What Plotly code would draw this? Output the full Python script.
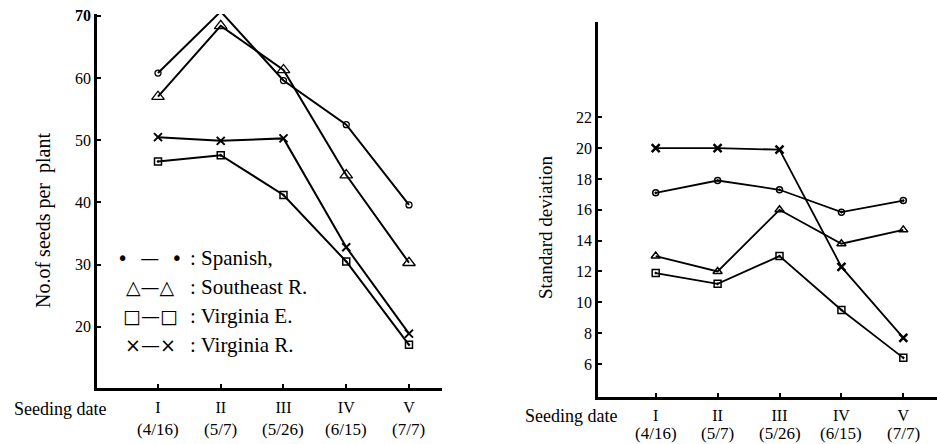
import plotly.graph_objects as go

# ---- data ----
dates_pos = [1, 2, 3, 4, 5]
roman = ["I", "II", "III", "IV", "V"]
dates = ["(4/16)", "(5/7)", "(5/26)", "(6/15)", "(7/7)"]

seeds_spanish = [60.8, 70.7, 59.6, 52.5, 39.6]
seeds_southeast = [57.0, 68.4, 61.3, 44.4, 30.3]
seeds_virginia_e = [46.6, 47.6, 41.2, 30.5, 17.1]
seeds_virginia_r = [50.5, 49.9, 50.3, 32.8, 18.9]

sd_spanish = [17.1, 17.9, 17.3, 15.85, 16.6]
sd_southeast = [13.0, 12.0, 16.0, 13.8, 14.7]
sd_virginia_e = [11.9, 11.2, 13.0, 9.5, 6.4]
sd_virginia_r = [20.0, 20.0, 19.9, 12.3, 7.7]

left_yticks = [20, 30, 40, 50, 60, 70]
left_yticklabels = ["20", "30", "40", "50", "60", "<b>70</b>"]
right_yticks = [6, 8, 10, 12, 14, 16, 18, 20, 22]

legend_symbols = ["•  —  •", "△—△", "□—□", "×—×"]
legend_names = [": Spanish,", ": Southeast R.", ": Virginia E.", ": Virginia R."]

SERIF = "Liberation Serif"
W, H = 937, 444

fig = go.Figure()

left_series = [
    (seeds_spanish, dict(symbol="circle-open", size=6, line=dict(width=1.3))),
    (seeds_southeast, dict(symbol="triangle-up-open", size=11, line=dict(width=1.3))),
    (seeds_virginia_e, dict(symbol="square-open-dot", size=7, line=dict(width=1.5))),
    (seeds_virginia_r, dict(symbol="x-thin-open", size=8, line=dict(width=2))),
]
right_series = [
    (sd_spanish, dict(symbol="circle-open-dot", size=6, line=dict(width=1.5))),
    (sd_southeast, dict(symbol="triangle-up-open", size=8, line=dict(width=1.5))),
    (sd_virginia_e, dict(symbol="square-open-dot", size=7, line=dict(width=1.5))),
    (sd_virginia_r, dict(symbol="x-thin-open", size=8, line=dict(width=2.5))),
]

for vals, mk in left_series:
    mk = dict(mk, color="black")
    fig.add_trace(go.Scatter(x=dates_pos, y=vals, mode="lines+markers",
                             line=dict(color="black", width=2), marker=mk,
                             cliponaxis=False,
                             xaxis="x", yaxis="y", showlegend=False))
for vals, mk in right_series:
    mk = dict(mk, color="black")
    fig.add_trace(go.Scatter(x=dates_pos, y=vals, mode="lines+markers",
                             line=dict(color="black", width=1.8), marker=mk,
                             cliponaxis=False,
                             xaxis="x2", yaxis="y2", showlegend=False))

axis_common = dict(showgrid=False, zeroline=False, showline=True, linecolor="black",
                   linewidth=2.5, ticks="inside", ticklen=4, tickwidth=1.5,
                   automargin=False,
                   tickcolor="black", tickfont=dict(family=SERIF, size=16, color="black"))

fig.update_layout(
    width=W, height=H, autosize=False,
    margin=dict(l=0, r=0, t=0, b=0, autoexpand=False),
    paper_bgcolor="white", plot_bgcolor="white",
    xaxis=dict(axis_common, domain=[97 / W, 442 / W], range=[0.028, 5.526],
               tickvals=dates_pos, ticktext=roman, anchor="y", ticklabelstandoff=3),
    yaxis=dict(axis_common, domain=[1 - 388 / H, 1 - 14 / H], range=[10.16, 70.3],
               tickvals=left_yticks, ticktext=left_yticklabels, anchor="x"),
    xaxis2=dict(axis_common, domain=[598 / W, 1.0], range=[0.068, 5.544],
                tickvals=dates_pos, ticktext=roman, anchor="y2", ticklabelstandoff=2),
    yaxis2=dict(axis_common, domain=[1 - 396.7 / H, 1 - 21.7 / H], range=[3.88, 28.2],
                tickvals=right_yticks, anchor="x2"),
)

ann = []
# date sub-labels
for p, d in zip(dates_pos, dates):
    ann.append(dict(x=p, y=1 - 429 / H, xref="x", yref="paper", text=d, showarrow=False,
                    xanchor="center", yanchor="middle",
                    font=dict(family=SERIF, size=17, color="black")))
    ann.append(dict(x=p, y=1 - 433 / H, xref="x2", yref="paper", text=d, showarrow=False,
                    xanchor="center", yanchor="middle",
                    font=dict(family=SERIF, size=17, color="black")))

# "Seeding date" labels
ann.append(dict(x=60 / W, y=1 - 409 / H, xref="paper", yref="paper", text="Seeding date",
                showarrow=False, xanchor="center", yanchor="middle",
                font=dict(family=SERIF, size=18, color="black")))
ann.append(dict(x=571 / W, y=1 - 416 / H, xref="paper", yref="paper", text="Seeding date",
                showarrow=False, xanchor="center", yanchor="middle",
                font=dict(family=SERIF, size=18, color="black")))

# axis titles
ann.append(dict(x=43 / W, y=1 - 221 / H, xref="paper", yref="paper",
                text="No.of seeds per  plant", textangle=-90, showarrow=False,
                xanchor="center", yanchor="middle",
                font=dict(family=SERIF, size=20, color="black")))
ann.append(dict(x=545 / W, y=1 - 228 / H, xref="paper", yref="paper",
                text="Standard deviation", textangle=-90, showarrow=False,
                xanchor="center", yanchor="middle",
                font=dict(family=SERIF, size=19, color="black")))

# in-plot legend
legend_y = [258, 287, 316, 345]
for sym, name, yy in zip(legend_symbols, legend_names, legend_y):
    ann.append(dict(x=150 / W, y=1 - yy / H, xref="paper", yref="paper", text=sym,
                    showarrow=False, xanchor="center", yanchor="middle",
                    font=dict(family="DejaVu Sans", size=19, color="black")))
    ann.append(dict(x=188 / W, y=1 - yy / H, xref="paper", yref="paper", text=name,
                    showarrow=False, xanchor="left", yanchor="middle",
                    font=dict(family=SERIF, size=21, color="black")))

fig.update_layout(annotations=ann)
fig.write_html("out.html", config={"displayModeBar": False},
               post_script="document.body.style.margin='0';document.body.style.overflow='hidden';")
